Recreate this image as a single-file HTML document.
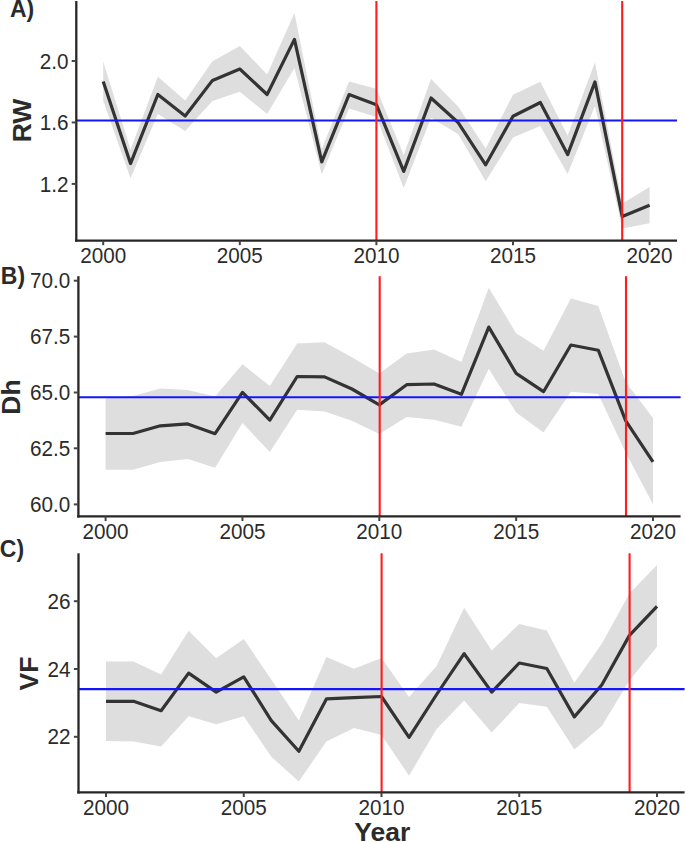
<!DOCTYPE html>
<html><head><meta charset="utf-8"><title>Figure</title>
<style>
html,body{margin:0;padding:0;background:#fff;}
body{width:685px;height:842px;overflow:hidden;}
svg{display:block;}
text{font-family:"Liberation Sans",sans-serif;fill:#2b2b2b;}
.tk{font-size:20.7px;}
.lab{font-size:23.0px;font-weight:bold;}
.ttl{font-size:26.5px;font-weight:bold;}
</style></head>
<body>
<svg width="685" height="842" viewBox="0 0 685 842">
<rect width="685" height="842" fill="#ffffff"/>
<polygon points="103.2,61.5 130.52,149.5 157.84,76.8 185.16,100.5 212.48,61.2 239.8,46 267.12,74.4 294.44,13.1 321.76,149 349.08,81.5 376.4,88.7 403.72,155 431.04,79 458.36,106.8 485.68,148.4 513,94.7 540.32,81.7 567.64,135.5 594.96,62.2 622.28,203.4 649.6,187 649.6,223.3 622.28,228.6 594.96,106 567.64,173.9 540.32,126 513,137.4 485.68,181.2 458.36,134.2 431.04,117.7 403.72,188 376.4,117.1 349.08,108.4 321.76,174.3 294.44,67.9 267.12,113.9 239.8,91.8 212.48,100.9 185.16,131 157.84,114 130.52,178.3 103.2,100.8" fill="#dedede"/>
<polyline points="103.2,81.5 130.52,163.6 157.84,94.5 185.16,116 212.48,80.4 239.8,69 267.12,94.5 294.44,39.4 321.76,161.8 349.08,94.6 376.4,104.7 403.72,171.4 431.04,98 458.36,122.8 485.68,164.8 513,116.2 540.32,102.5 567.64,154.6 594.96,81.9 622.28,216.6 649.6,205.3" fill="none" stroke="#333333" stroke-width="3.2" stroke-linejoin="round" stroke-linecap="butt"/>
<line x1="76.3" y1="120.5" x2="677" y2="120.5" stroke="#1414ff" stroke-width="2.1"/>
<line x1="376.4" y1="1" x2="376.4" y2="240.6" stroke="#ff1c1c" stroke-width="2.1"/>
<line x1="622.2" y1="1" x2="622.2" y2="240.6" stroke="#ff1c1c" stroke-width="2.1"/>
<line x1="76.3" y1="1" x2="76.3" y2="241.75" stroke="#262626" stroke-width="2.3"/>
<line x1="75.15" y1="240.6" x2="677" y2="240.6" stroke="#262626" stroke-width="2.3"/>
<line x1="71.7" y1="61" x2="76.3" y2="61" stroke="#444444" stroke-width="2.0"/>
<text transform="translate(68.4 68.6) scale(1 1.035)" text-anchor="end" class="tk">2.0</text>
<line x1="71.7" y1="122.45" x2="76.3" y2="122.45" stroke="#444444" stroke-width="2.0"/>
<text transform="translate(68.4 130.05) scale(1 1.035)" text-anchor="end" class="tk">1.6</text>
<line x1="71.7" y1="183.9" x2="76.3" y2="183.9" stroke="#444444" stroke-width="2.0"/>
<text transform="translate(68.4 191.5) scale(1 1.035)" text-anchor="end" class="tk">1.2</text>
<line x1="103.2" y1="240.6" x2="103.2" y2="245.2" stroke="#444444" stroke-width="2.0"/>
<text transform="translate(103.2 262.6) scale(1 1.035)" text-anchor="middle" class="tk">2000</text>
<line x1="239.8" y1="240.6" x2="239.8" y2="245.2" stroke="#444444" stroke-width="2.0"/>
<text transform="translate(239.8 262.6) scale(1 1.035)" text-anchor="middle" class="tk">2005</text>
<line x1="376.4" y1="240.6" x2="376.4" y2="245.2" stroke="#444444" stroke-width="2.0"/>
<text transform="translate(376.4 262.6) scale(1 1.035)" text-anchor="middle" class="tk">2010</text>
<line x1="513" y1="240.6" x2="513" y2="245.2" stroke="#444444" stroke-width="2.0"/>
<text transform="translate(513 262.6) scale(1 1.035)" text-anchor="middle" class="tk">2015</text>
<line x1="649.6" y1="240.6" x2="649.6" y2="245.2" stroke="#444444" stroke-width="2.0"/>
<text transform="translate(649.6 262.6) scale(1 1.035)" text-anchor="middle" class="tk">2020</text>
<text x="10" y="16.6" class="lab">A)</text>
<text transform="translate(31 120.5) rotate(-90)" text-anchor="middle" class="ttl">RW</text>
<polygon points="105.6,398.5 132.97,396 160.34,388.6 187.71,390 215.08,396.5 242.45,364.2 269.82,386.1 297.19,343.4 324.56,342.3 351.93,357.2 379.3,373.5 406.67,353.4 434.04,349.6 461.41,362.1 488.78,287.7 516.15,333.2 543.52,350.7 570.89,298.6 598.26,306.1 625.63,382 653,418 653,504.3 625.63,452.6 598.26,394 570.89,391.7 543.52,432.6 516.15,412.6 488.78,368.7 461.41,426.7 434.04,419.7 406.67,416.9 379.3,433.9 351.93,420.7 324.56,411.5 297.19,409.8 269.82,452 242.45,423 215.08,467.7 187.71,458.9 160.34,462 132.97,469.8 105.6,469.8" fill="#dedede"/>
<polyline points="105.6,433.5 132.97,433.5 160.34,425.8 187.71,423.9 215.08,433.7 242.45,392.4 269.82,420.1 297.19,376.5 324.56,376.9 351.93,389 379.3,404.9 406.67,384.7 434.04,384 461.41,394.3 488.78,327.1 516.15,373.4 543.52,391.7 570.89,345 598.26,350.2 625.63,420.6 653,461.9" fill="none" stroke="#333333" stroke-width="3.2" stroke-linejoin="round" stroke-linecap="butt"/>
<line x1="78.4" y1="397.2" x2="680.6" y2="397.2" stroke="#1414ff" stroke-width="2.1"/>
<line x1="379.7" y1="276.2" x2="379.7" y2="516.4" stroke="#ff1c1c" stroke-width="2.1"/>
<line x1="626" y1="276.2" x2="626" y2="516.4" stroke="#ff1c1c" stroke-width="2.1"/>
<line x1="78.4" y1="276.2" x2="78.4" y2="517.55" stroke="#262626" stroke-width="2.3"/>
<line x1="77.25" y1="516.4" x2="680.6" y2="516.4" stroke="#262626" stroke-width="2.3"/>
<line x1="73.8" y1="280.7" x2="78.4" y2="280.7" stroke="#444444" stroke-width="2.0"/>
<text transform="translate(70.2 288.3) scale(1 1.035)" text-anchor="end" class="tk">70.0</text>
<line x1="73.8" y1="336.6" x2="78.4" y2="336.6" stroke="#444444" stroke-width="2.0"/>
<text transform="translate(70.2 344.2) scale(1 1.035)" text-anchor="end" class="tk">67.5</text>
<line x1="73.8" y1="392.5" x2="78.4" y2="392.5" stroke="#444444" stroke-width="2.0"/>
<text transform="translate(70.2 400.1) scale(1 1.035)" text-anchor="end" class="tk">65.0</text>
<line x1="73.8" y1="448.3" x2="78.4" y2="448.3" stroke="#444444" stroke-width="2.0"/>
<text transform="translate(70.2 455.9) scale(1 1.035)" text-anchor="end" class="tk">62.5</text>
<line x1="73.8" y1="504.4" x2="78.4" y2="504.4" stroke="#444444" stroke-width="2.0"/>
<text transform="translate(70.2 512) scale(1 1.035)" text-anchor="end" class="tk">60.0</text>
<line x1="105.6" y1="516.4" x2="105.6" y2="521" stroke="#444444" stroke-width="2.0"/>
<text transform="translate(105.6 538.8) scale(1 1.035)" text-anchor="middle" class="tk">2000</text>
<line x1="242.45" y1="516.4" x2="242.45" y2="521" stroke="#444444" stroke-width="2.0"/>
<text transform="translate(242.45 538.8) scale(1 1.035)" text-anchor="middle" class="tk">2005</text>
<line x1="379.3" y1="516.4" x2="379.3" y2="521" stroke="#444444" stroke-width="2.0"/>
<text transform="translate(379.3 538.8) scale(1 1.035)" text-anchor="middle" class="tk">2010</text>
<line x1="516.15" y1="516.4" x2="516.15" y2="521" stroke="#444444" stroke-width="2.0"/>
<text transform="translate(516.15 538.8) scale(1 1.035)" text-anchor="middle" class="tk">2015</text>
<line x1="653" y1="516.4" x2="653" y2="521" stroke="#444444" stroke-width="2.0"/>
<text transform="translate(653 538.8) scale(1 1.035)" text-anchor="middle" class="tk">2020</text>
<text x="0.8" y="283.7" class="lab">B)</text>
<text transform="translate(20 397) rotate(-90)" text-anchor="middle" class="ttl">Dh</text>
<polygon points="106,661.5 133.55,661.5 161.1,674.6 188.65,630.8 216.2,658.2 243.75,639.1 271.3,679.6 298.85,720.6 326.4,657.1 353.95,668.7 381.5,658 409.05,696.9 436.6,666 464.15,607.8 491.7,650.6 519.25,624 546.8,630.5 574.35,682.7 601.9,643.4 629.45,593.5 657,565 657,646.8 629.45,680.4 601.9,726 574.35,749.4 546.8,706.7 519.25,703 491.7,732.5 464.15,700.5 436.6,729 409.05,775.7 381.5,734.9 353.95,727.9 326.4,741.5 298.85,781.5 271.3,756.8 243.75,716.2 216.2,724.3 188.65,716.2 161.1,746.4 133.55,741.4 106,740.9" fill="#dedede"/>
<polyline points="106,701.3 133.55,701.3 161.1,710.7 188.65,673.1 216.2,692.1 243.75,676.8 271.3,720.6 298.85,751.2 326.4,698.9 353.95,697.6 381.5,696.5 409.05,737.3 436.6,694.5 464.15,653.7 491.7,692.1 519.25,663 546.8,668.5 574.35,716.9 601.9,684.7 629.45,635.4 657,606.3" fill="none" stroke="#333333" stroke-width="3.2" stroke-linejoin="round" stroke-linecap="butt"/>
<line x1="78.5" y1="689.1" x2="684.6" y2="689.1" stroke="#1414ff" stroke-width="2.1"/>
<line x1="381.6" y1="553.3" x2="381.6" y2="792.4" stroke="#ff1c1c" stroke-width="2.1"/>
<line x1="629.6" y1="553.3" x2="629.6" y2="792.4" stroke="#ff1c1c" stroke-width="2.1"/>
<line x1="78.5" y1="553.3" x2="78.5" y2="793.55" stroke="#262626" stroke-width="2.3"/>
<line x1="77.35" y1="792.4" x2="684.6" y2="792.4" stroke="#262626" stroke-width="2.3"/>
<line x1="73.9" y1="601.2" x2="78.5" y2="601.2" stroke="#444444" stroke-width="2.0"/>
<text transform="translate(70.4 608.8) scale(1 1.035)" text-anchor="end" class="tk">26</text>
<line x1="73.9" y1="669" x2="78.5" y2="669" stroke="#444444" stroke-width="2.0"/>
<text transform="translate(70.4 676.6) scale(1 1.035)" text-anchor="end" class="tk">24</text>
<line x1="73.9" y1="736.8" x2="78.5" y2="736.8" stroke="#444444" stroke-width="2.0"/>
<text transform="translate(70.4 744.4) scale(1 1.035)" text-anchor="end" class="tk">22</text>
<line x1="106" y1="792.4" x2="106" y2="797" stroke="#444444" stroke-width="2.0"/>
<text transform="translate(106 815.2) scale(1 1.035)" text-anchor="middle" class="tk">2000</text>
<line x1="243.75" y1="792.4" x2="243.75" y2="797" stroke="#444444" stroke-width="2.0"/>
<text transform="translate(243.75 815.2) scale(1 1.035)" text-anchor="middle" class="tk">2005</text>
<line x1="381.5" y1="792.4" x2="381.5" y2="797" stroke="#444444" stroke-width="2.0"/>
<text transform="translate(381.5 815.2) scale(1 1.035)" text-anchor="middle" class="tk">2010</text>
<line x1="519.25" y1="792.4" x2="519.25" y2="797" stroke="#444444" stroke-width="2.0"/>
<text transform="translate(519.25 815.2) scale(1 1.035)" text-anchor="middle" class="tk">2015</text>
<line x1="657" y1="792.4" x2="657" y2="797" stroke="#444444" stroke-width="2.0"/>
<text transform="translate(657 815.2) scale(1 1.035)" text-anchor="middle" class="tk">2020</text>
<text x="-0.2" y="556.9" class="lab">C)</text>
<text transform="translate(38.4 673.5) rotate(-90)" text-anchor="middle" class="ttl">VF</text>
<text x="382.2" y="840.9" text-anchor="middle" class="ttl">Year</text>
</svg>
</body></html>
